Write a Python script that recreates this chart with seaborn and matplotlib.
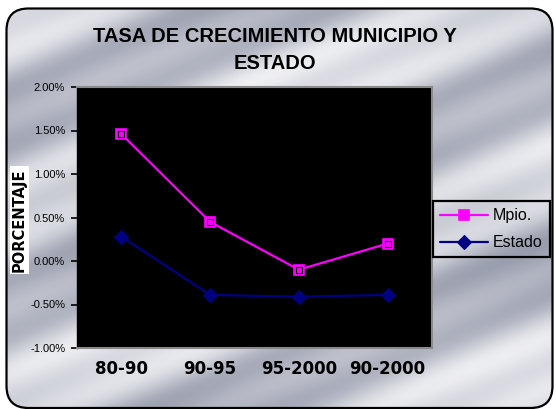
import numpy as np
import pandas as pd
import matplotlib
matplotlib.use("Agg")
import matplotlib.pyplot as plt
import seaborn as sns
from matplotlib.patches import FancyBboxPatch
from matplotlib.colors import LinearSegmentedColormap
from matplotlib.ticker import FuncFormatter

# ---- data ----
periodos = ["80-90", "90-95", "95-2000", "90-2000"]
mpio = [1.46, 0.45, -0.10, 0.20]
estado = [0.28, -0.39, -0.41, -0.39]
yticks = [-1.0, -0.5, 0.0, 0.5, 1.0, 1.5, 2.0]
titulo = "TASA DE CRECIMIENTO MUNICIPIO Y\nESTADO"
ylabel = "PORCENTAJE"

sns.set_theme(style="white")
plt.rcParams["font.family"] = ["Liberation Sans", "DejaVu Sans"]

W, H = 556, 409
fig = plt.figure(figsize=(W / 100, H / 100), dpi=100)
fig.patch.set_facecolor("white")

# ---- metallic background in a rounded frame ----
bg = fig.add_axes([0, 0, 1, 1], zorder=-5)
bg.set_xlim(0, W)
bg.set_ylim(H, 0)
bg.axis("off")
yy, xx = np.mgrid[0:H, 0:W]
t = yy + 0.42 * xx
lum = (0.70 + 0.18 * np.sin(2 * np.pi * t / 190 + 0.9)
       + 0.09 * np.sin(2 * np.pi * t / 63 + 2.1)
       + 0.05 * np.sin(2 * np.pi * (yy - 0.1 * xx) / 260 + 0.3))
lum = np.clip(lum, 0, 1)
cmap = LinearSegmentedColormap.from_list("metal", ["#80869a", "#bcbfca", "#f4f4f7"])
im = bg.imshow(lum, cmap=cmap, extent=[0, W, H, 0], vmin=0.3, vmax=1.0,
               interpolation="bilinear", aspect="auto")
frame = FancyBboxPatch((6.5, 8.5), 546, 399.5, boxstyle="round,pad=0,rounding_size=22",
                       fc="none", ec="black", lw=1.6, transform=bg.transData)
bg.add_patch(frame)
im.set_clip_path(frame)

# ---- plot area ----
L, R, T, B = 77, 432, 87, 348
ax = fig.add_axes([L / W, 1 - B / H, (R - L) / W, (B - T) / H])
ax.set_facecolor("black")

df = pd.DataFrame({"periodo": periodos, "Mpio.": mpio, "Estado": estado})

sns.lineplot(data=df, x="periodo", y="Mpio.", sort=False, ax=ax, color="#ff00ff",
             lw=1.6, marker="s", markersize=7, markerfacecolor="#ff00ff",
             markeredgecolor="#ff00ff", markeredgewidth=1.2, label="Mpio.")
sns.lineplot(data=df, x="periodo", y="Mpio.", sort=False, ax=ax, lw=0,
             marker="s", markersize=4.2, markerfacecolor="none",
             markeredgecolor="black", markeredgewidth=0.8, label="_nolegend_")
sns.lineplot(data=df, x="periodo", y="Estado", sort=False, ax=ax, color="#000080",
             lw=1.6, marker="D", markersize=7, markerfacecolor="#000080",
             markeredgecolor="#000080", markeredgewidth=0.8, label="Estado")

ax.set_xlim(-0.5, 3.5)
ax.set_ylim(-1.0, 2.0)
ax.set_yticks(yticks)
ax.yaxis.set_major_formatter(FuncFormatter(lambda v, p: f"{v:.2f}%"))
ax.tick_params(axis="y", direction="out", length=4.5, width=1.2, color="black",
               labelsize=8, pad=4, left=True, labelcolor="black")
ax.tick_params(axis="x", length=0, pad=9, labelsize=12, labelcolor="black")
for lab in ax.get_xticklabels():
    lab.set_fontfamily("DejaVu Sans")
    lab.set_fontweight("bold")
for s in ["top", "right", "bottom"]:
    ax.spines[s].set_color("#8a8a8a")
    ax.spines[s].set_linewidth(1.5)
ax.spines["left"].set_color("black")
ax.spines["left"].set_linewidth(1.0)
ax.set_xlabel("")
ax.set_ylabel(ylabel, fontsize=10.5, fontweight="heavy", family="DejaVu Sans",
              color="black", bbox=dict(fc="white", ec="none", pad=1.5))
ax.yaxis.label.set_va("center")
ax.yaxis.set_label_coords((19.5 - L) / (R - L), (B - 220) / (B - T))

# ---- title ----
fig.text(275 / W, 1 - 50 / H, titulo, ha="center", va="center", fontsize=14.5,
         fontweight="bold", family="Liberation Sans",
         linespacing=1.55, color="black")

# ---- legend ----
leg = ax.legend(loc="upper left", bbox_to_anchor=(433 / W, 1 - 201 / H),
                bbox_transform=fig.transFigure, borderaxespad=0, frameon=True,
                fancybox=False, facecolor="none", edgecolor="black", framealpha=1,
                fontsize=11.5, handlelength=3.0, handletextpad=0.3,
                labelspacing=0.75, borderpad=0.45)
leg.get_frame().set_linewidth(1.6)
for txt in leg.get_texts():
    txt.set_color("black")

fig.savefig("out.png", dpi=100, facecolor="white")
